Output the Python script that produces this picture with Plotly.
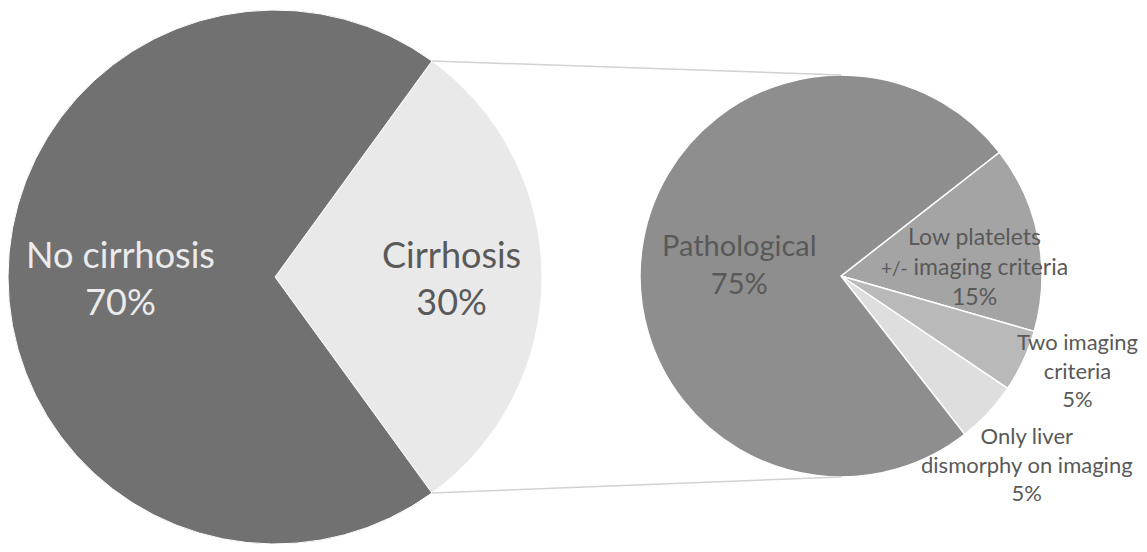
import math
import plotly.graph_objects as go

# ## Data

main_labels = ['Cirrhosis', 'No cirrhosis']
main_values = [30, 70]
main_colors = ['#e9e9e9', '#717171']

sub_labels = ['Low platelets<br><span style="font-size:19px">+/-</span> imaging criteria',
              'Two imaging<br>criteria', 'Only liver<br>dismorphy on imaging', 'Pathological']
sub_values = [15, 5, 5, 75]
sub_colors = ['#a4a4a4', '#b9b9b9', '#dedede', '#8e8e8e']

W, H = 1147, 552
OFF = 8  # page body margin around the figure
FW, FH = W - 2 * OFF, H - 2 * OFF

# pie geometry in page pixels (centre x, centre y, radius)
main_geo = (275, 277, 267)
sub_geo = (841, 276, 201)

main_rot = 36
sub_rot = 52


def px(x, y):
    return (x - OFF) / FW, 1 - (y - OFF) / FH


def domain(geo):
    cx, cy, r = geo
    x0, y1 = px(cx - r, cy - r)
    x1, y0 = px(cx + r, cy + r)
    return dict(x=[max(x0, 0), min(x1, 1)], y=[max(y0, 0), min(y1, 1)])


def mid_angles(values, rotation):
    # clockwise angle from 12 o'clock, at the middle of each slice
    total = sum(values)
    out = []
    start = rotation
    for v in values:
        span = 360 * v / total
        out.append(start + span / 2)
        start += span
    return out


def polar(geo, ang, rf):
    cx, cy, r = geo
    a = math.radians(ang)
    return px(cx + rf * r * math.sin(a), cy - rf * r * math.cos(a))


fig = go.Figure()

fig.add_trace(go.Pie(
    labels=main_labels, values=main_values, sort=False, direction='clockwise',
    rotation=main_rot, marker=dict(colors=main_colors, line=dict(color='white', width=1)),
    textinfo='none', hoverinfo='skip', showlegend=False, domain=domain(main_geo),
))

fig.add_trace(go.Pie(
    labels=sub_labels, values=sub_values, sort=False, direction='clockwise',
    rotation=sub_rot, marker=dict(colors=sub_colors, line=dict(color='white', width=1.5)),
    textinfo='none', hoverinfo='skip', showlegend=False, domain=domain(sub_geo),
))

# ## Labels

main_place = [(0.66, 0), (0.58, 0)]          # radial factor, angle shift
main_font = [dict(size=36, color='#595959'), dict(size=36, color='#ebebeb')]
for lab, v, ang, (rf, sh), f in zip(main_labels, main_values, mid_angles(main_values, main_rot),
                                    main_place, main_font):
    x, y = polar(main_geo, ang + sh, rf)
    fig.add_annotation(x=x, y=y, xref='paper', yref='paper', showarrow=False,
                       xanchor='center', yanchor='middle',
                       text=f'{lab}<br>{v}%', font=dict(family='Lato', **f))

sub_place = [(0.664, 6.7), (1.264, -3.3), (1.316, 2.3), (0.51, 0)]
sub_size = [23, 22, 22, 29]
for lab, v, ang, (rf, sh), s in zip(sub_labels, sub_values, mid_angles(sub_values, sub_rot),
                                    sub_place, sub_size):
    x, y = polar(sub_geo, ang + sh, rf)
    fig.add_annotation(x=x, y=y, xref='paper', yref='paper', showarrow=False,
                       xanchor='center', yanchor='middle',
                       text=f'{lab}<br>{v}%', font=dict(family='Lato', size=s, color='#595959'))

# ## Connector lines from cirrhosis slice to the breakdown pie

for a, top in [(main_rot, True), (main_rot + 360 * main_values[0] / sum(main_values), False)]:
    x0, y0 = polar(main_geo, a, 1)
    cx, cy, r = sub_geo
    x1, y1 = px(cx, cy - r if top else cy + r)
    fig.add_shape(type='line', xref='paper', yref='paper', x0=x0, y0=y0, x1=x1, y1=y1,
                  line=dict(color='#d2d2d2', width=1.5))

fig.update_layout(
    width=FW, height=FH,
    margin=dict(l=0, r=0, t=0, b=0),
    paper_bgcolor='white', plot_bgcolor='white',
)

fig.write_html("out.html")
